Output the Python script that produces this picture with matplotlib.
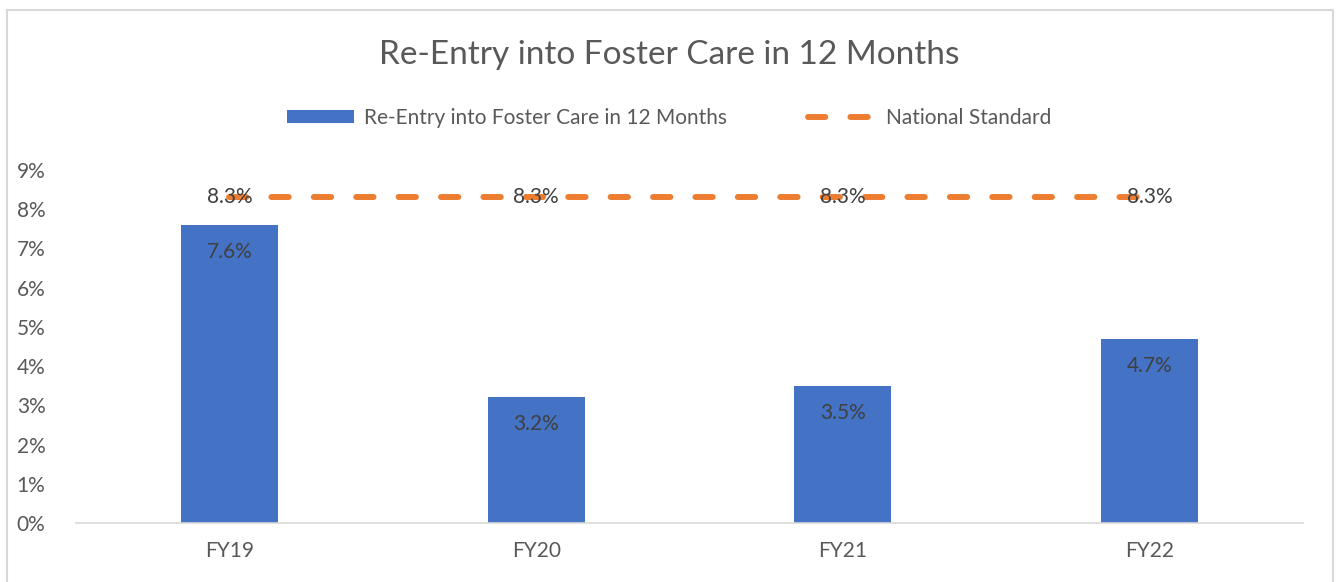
import numpy as np
import matplotlib.pyplot as plt
from matplotlib.patches import Patch, Rectangle
from matplotlib.lines import Line2D

plt.rcParams['font.family'] = ['Lato', 'DejaVu Sans']

years = ['FY19', 'FY20', 'FY21', 'FY22']
reentry = [7.6, 3.2, 3.5, 4.7]
standard = [8.3, 8.3, 8.3, 8.3]
yticks = [0, 1, 2, 3, 4, 5, 6, 7, 8, 9]

blue = '#4472C4'
orange = '#ED7D31'
grey = '#595959'

fig = plt.figure(figsize=(13.38, 5.82), dpi=100)
ax = fig.add_axes([76/1338, 1 - 523/582, (1303 - 76)/1338, (523 - 170)/582])

x = np.arange(len(years))
ax.bar(x, reentry, width=0.316, color=blue, zorder=2)
ax.plot(x, standard, color=orange, lw=4.3, dashes=(2.9, 4.2),
        dash_capstyle='round', zorder=3)

# data labels
for xi, v in zip(x, reentry):
    ax.annotate(f'{v:.1f}%', (xi, v), xytext=(0, -27), textcoords='offset pixels',
                ha='center', va='center', fontsize=15, color='#404040', zorder=4)
for xi, v in zip(x, standard):
    ax.annotate(f'{v:.1f}%', (xi, v), ha='center', va='center',
                fontsize=15, color='#404040', zorder=4)

ax.set_xlim(-0.5, 3.5)
ax.set_ylim(0, 9)
ax.set_yticks(yticks)
ax.set_yticklabels([f'{t}%' for t in yticks])
ax.set_xticks(x)
ax.set_xticklabels(years)
ax.tick_params(axis='both', length=0, labelsize=15, labelcolor=grey)
ax.tick_params(axis='y', pad=22)
ax.tick_params(axis='x', pad=13)
for s in ['top', 'right', 'left']:
    ax.spines[s].set_visible(False)
ax.spines['bottom'].set_color('#D9D9D9')
ax.spines['bottom'].set_linewidth(1.2)

fig.text(0.5, 1 - 55/582, 'Re-Entry into Foster Care in 12 Months',
         ha='center', va='center', fontsize=24, color=grey)

handles = [Patch(facecolor=blue, edgecolor='none'),
           Line2D([0], [0], color=orange, lw=4.3, dashes=(2.9, 4.2), dash_capstyle='round')]
fig.legend(handles, ['Re-Entry into Foster Care in 12 Months', 'National Standard'],
           loc='center', bbox_to_anchor=(0.5, 1 - 118/582), ncol=2, frameon=False,
           fontsize=15, labelcolor=grey, handlelength=3.2, handleheight=0.6,
           columnspacing=3.9, handletextpad=0.5)

# light chart-area border
fig.patches.append(Rectangle((7/1338, -0.05), (1333 - 7)/1338, 1.05 - 10/582,
                             transform=fig.transFigure, fill=False,
                             edgecolor='#D9D9D9', lw=1.5))

fig.savefig('out.png', dpi=100)
